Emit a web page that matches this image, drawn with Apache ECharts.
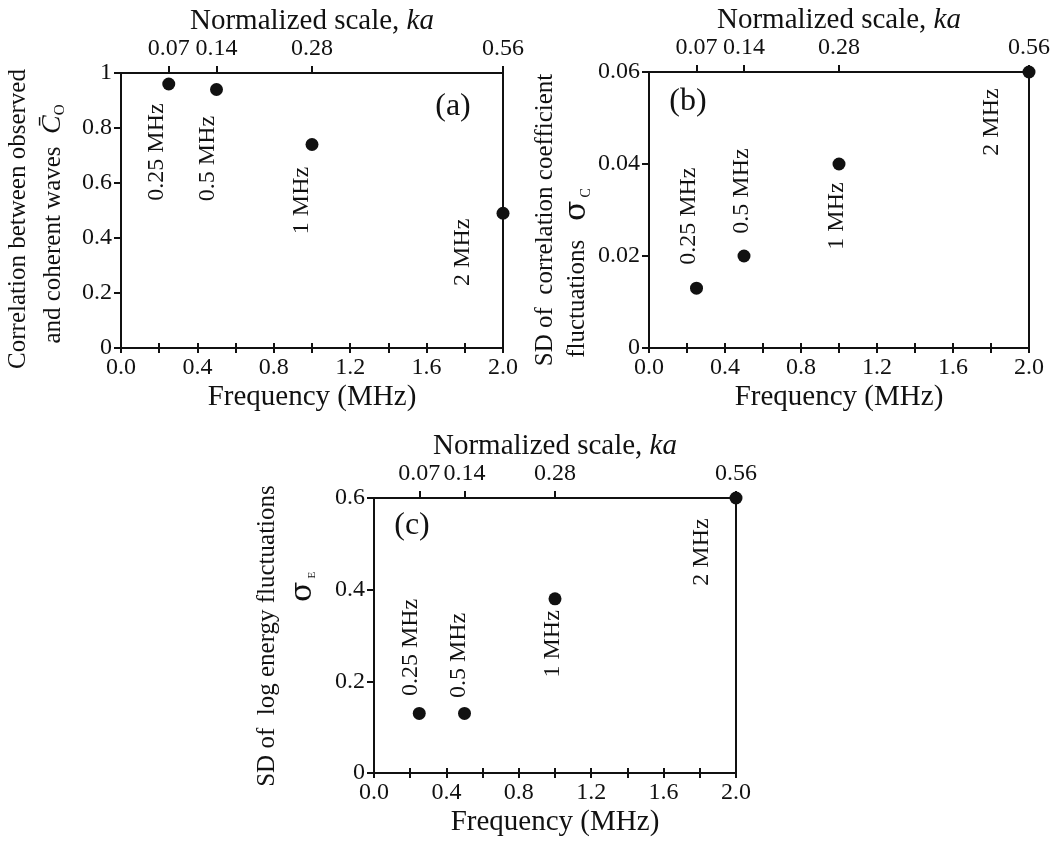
<!DOCTYPE html>
<html>
<head>
<meta charset="utf-8">
<script src="https://cdn.jsdelivr.net/npm/echarts@6/dist/echarts.min.js"></script>
<style>
html,body{margin:0;padding:0;background:#fff;}
#chart{width:1061px;height:841px;}
</style>
</head>
<body>
<div id="chart"></div>
<script>
// ---- data ----
const freq = [0.25, 0.5, 1.0, 2.0];
const freqLabels = ['0.25 MHz', '0.5 MHz', '1 MHz', '2 MHz'];
const kaLabels = ['0.07', '0.14', '0.28', '0.56'];
const corrA = [0.96, 0.94, 0.74, 0.49];
const sigmaC = [0.013, 0.020, 0.040, 0.060];
const sigmaE = [0.13, 0.13, 0.38, 0.60];

const FONT = "'Liberation Serif', 'Times New Roman', serif";
const C = '#111111';

const grids = [
  {left: 121, top: 73, width: 382, height: 275},
  {left: 649, top: 72, width: 380, height: 276},
  {left: 374, top: 498, width: 362, height: 275}
];
const yCfg = [
  {max: 1, interval: 0.2},
  {max: 0.06, interval: 0.02},
  {max: 0.6, interval: 0.2}
];
const values = [corrA, sigmaC, sigmaE];
// label offsets (style; in the rotated label frame) per panel/point
const labelOffsets = [
  [[-68, -12], [-69, -9], [-56, -10], [-39, -40]],
  [[72, -8], [65, -2], [-52, -2], [-50, -37]],
  [[66, -9], [58, -6], [-45, -2], [-54, -34]]
];

const gridOpt = [], xAxes = [], yAxes = [], series = [];
grids.forEach(g => gridOpt.push(Object.assign({}, g)));   // main grids 0..2
grids.forEach(g => gridOpt.push(Object.assign({}, g)));   // overlay grids 3..5

const lineStyle = {color: C, width: 2};
const NAME_SIZE = 29;
grids.forEach((g, i) => {
  // bottom frequency axis
  xAxes.push({
    type: 'value', gridIndex: i, position: 'bottom', min: 0, max: 2, interval: 0.2,
    axisLine: {show: true, onZero: false, lineStyle},
    axisTick: {show: true, length: 5, lineStyle},
    axisLabel: {
      color: C, fontFamily: FONT, fontSize: 24, margin: 8,
      formatter: v => (Math.round(v * 10) % 4 === 0 ? v.toFixed(1) : '')
    },
    splitLine: {show: false},
    name: 'Frequency (MHz)', nameLocation: 'middle', nameGap: 35,
    nameTextStyle: {color: C, fontFamily: FONT, fontSize: NAME_SIZE}
  });
  // top ka axis
  xAxes.push({
    type: 'value', gridIndex: i, position: 'top', min: 0, max: 2,
    axisLine: {show: true, onZero: false, lineStyle},
    axisTick: {show: true, length: 7, lineStyle, customValues: freq},
    axisLabel: {
      color: C, fontFamily: FONT, fontSize: 24, margin: 12, customValues: freq,
      formatter: v => { const k = freq.indexOf(v); return k >= 0 ? kaLabels[k] : ''; }
    },
    splitLine: {show: false},
    name: 'Normalized scale, {i|ka}', nameLocation: 'middle', nameGap: 37,
    nameTextStyle: {color: C, fontFamily: FONT, fontSize: NAME_SIZE,
      rich: {i: {fontStyle: 'italic', fontFamily: FONT, fontSize: NAME_SIZE, color: C}}}
  });
  yAxes.push({
    type: 'value', gridIndex: i, position: 'left', min: 0, max: yCfg[i].max, interval: yCfg[i].interval,
    axisLine: {show: true, onZero: false, lineStyle},
    axisTick: {show: true, length: 7, lineStyle},
    axisLabel: {color: C, fontFamily: FONT, fontSize: 24, margin: 9},
    splitLine: {show: false}
  });
});
// overlay axes: inward bottom ticks + right border
grids.forEach((g, i) => {
  xAxes.push({
    type: 'value', gridIndex: i + 3, position: 'bottom', min: 0, max: 2, interval: 0.2,
    axisLine: {show: false},
    axisTick: {show: true, inside: true, length: 5, lineStyle},
    axisLabel: {show: false}, splitLine: {show: false}
  });
  yAxes.push({
    type: 'value', gridIndex: i + 3, position: 'right', min: 0, max: yCfg[i].max, interval: yCfg[i].interval,
    axisLine: {show: true, onZero: false, lineStyle},
    axisTick: {show: false}, axisLabel: {show: false}, splitLine: {show: false}
  });
});

grids.forEach((g, i) => {
  series.push({
    type: 'scatter', xAxisIndex: i * 2, yAxisIndex: i, clip: false, z: 5,
    symbol: 'circle', symbolSize: 13,
    itemStyle: {color: C, opacity: 1},
    data: freq.map((f, k) => ({
      value: [f, values[i][k]],
      label: {
        show: true, formatter: freqLabels[k], position: 'inside', rotate: 90,
        align: 'center', verticalAlign: 'middle',
        offset: labelOffsets[i][k],
        color: C, fontFamily: FONT, fontSize: 24, opacity: 1
      }
    }))
  });
});

function vText(x, y, text, size, rich) {
  return {
    type: 'text', x: x, y: y, rotation: Math.PI / 2,
    style: {text: text, fill: C, font: size + 'px ' + FONT, align: 'center', verticalAlign: 'middle', rich: rich || undefined}
  };
}
const graphics = [
  // panel tags
  {type: 'text', x: 453, y: 107, style: {text: '(a)', fill: C, font: '32px ' + FONT, align: 'center', verticalAlign: 'middle'}},
  {type: 'text', x: 688, y: 102, style: {text: '(b)', fill: C, font: '32px ' + FONT, align: 'center', verticalAlign: 'middle'}},
  {type: 'text', x: 412, y: 526, style: {text: '(c)', fill: C, font: '32px ' + FONT, align: 'center', verticalAlign: 'middle'}},
  // y titles
  vText(18, 219, 'Correlation between observed', 25),
  vText(53, 224, '{t|and coherent waves  }{c|C\u0304}{s|O}', 25, {
    t: {fontFamily: FONT, fontSize: 25, color: C},
    c: {fontFamily: FONT, fontSize: 28, fontStyle: 'italic', color: C},
    s: {fontFamily: FONT, fontSize: 15, color: C, padding: [14, 0, 0, 0]}
  }),
  vText(545, 220, 'SD of  correlation coefficient', 25),
  vText(577, 273, '{t|fluctuations   }{g|\u03c3}{s|C}', 25, {
    t: {fontFamily: FONT, fontSize: 25, color: C},
    g: {fontFamily: "'DejaVu Serif', serif", fontSize: 30, color: C},
    s: {fontFamily: FONT, fontSize: 14, color: C, padding: [18, 0, 0, 3]}
  }),
  vText(267, 636, 'SD of  log energy fluctuations', 25),
  vText(303, 587, '{g|\u03c3}{s|E}', 25, {
    g: {fontFamily: "'DejaVu Serif', serif", fontSize: 30, color: C},
    s: {fontFamily: FONT, fontSize: 11, color: C, padding: [18, 0, 0, 3]}
  })
];

const chart = echarts.init(document.getElementById('chart'), null, {renderer: 'canvas'});
chart.setOption({
  backgroundColor: '#fff',
  animation: false,
  grid: gridOpt,
  xAxis: xAxes,
  yAxis: yAxes,
  series: series,
  graphic: graphics
});
</script>
</body>
</html>
